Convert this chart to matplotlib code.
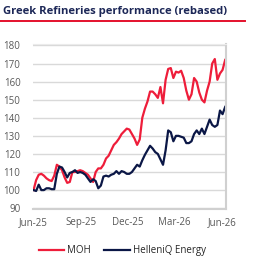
import pandas as pd
import matplotlib.pyplot as plt
import matplotlib.dates as mdates
from matplotlib.lines import Line2D

# Rebased performance, sampled every 5 days from early June 2025
dates = pd.date_range('2025-06-02', periods=75, freq='5D')

moh = [100, 105.5, 108.5, 109, 108, 106.5, 105.5, 105, 108, 114,
       113, 111, 107, 104, 104.5, 110, 110, 110.5, 111, 110.5,
       109.5, 108.5, 106.5, 104.5, 110, 112, 112, 114, 117.5, 119,
       122, 125, 126.5, 128.5, 131, 132.5, 134, 133.5, 131, 128.5,
       125, 128, 140, 145, 149, 154.5, 154.5, 153, 151, 157,
       148, 161, 167, 167.5, 162, 165.5, 165, 166, 162, 155,
       150, 153, 162, 160, 154, 150, 148.5, 155, 160, 170,
       172.5, 161, 164.5, 166.5, 172]

helleniq = [100, 99.5, 103, 100, 100, 101, 101, 100.5, 100.5, 109,
            113, 112.5, 110, 107, 109.5, 110, 111, 109.5, 110, 109.5,
            108.5, 106.5, 104.5, 106, 105, 101, 102.5, 107.5, 108, 107.5,
            108.5, 109, 110.5, 109, 110.5, 110, 109, 109, 110, 112,
            114, 113, 116.5, 119.5, 122, 124.5, 123, 121, 120, 117,
            114, 122, 133, 132, 127, 130, 130, 129.5, 129, 126,
            126, 127, 131, 133, 131, 134, 131, 135, 139, 136,
            135, 136, 144, 142, 146]

series_names = ['MOH', 'HelleniQ Energy']
colors = ['#EE1D3A', '#0B1746']

fig = plt.figure(figsize=(2.6, 2.62), dpi=100)

# title with red underline
fig.text(0.012, 0.955, 'Greek Refineries performance (rebased)', fontsize=8.15,
         fontweight='bold', color='#1C2757', ha='left', va='center', family='Open Sans')
fig.add_artist(Line2D([0, 0.942], [0.918, 0.918], color='#E4112C', lw=1.4))

ax = fig.add_axes([0.127, 0.202, 0.741, 0.63])
ax.plot(dates, moh, color=colors[0], lw=1.6, label=series_names[0])
ax.plot(dates, helleniq, color=colors[1], lw=1.6, label=series_names[1])

ax.set_ylim(89.5, 180.8)
ax.set_yticks(range(90, 181, 10))
ax.set_xlim(pd.Timestamp('2025-06-01'), pd.Timestamp('2026-06-08'))
ax.xaxis.set_major_locator(mdates.MonthLocator(bymonth=[3, 6, 9, 12]))
ax.xaxis.set_major_formatter(mdates.DateFormatter('%b-%y'))

ax.grid(axis='y', color='#D9D9D9', lw=1)
ax.set_axisbelow(True)
ax.tick_params(length=0, labelsize=7, labelcolor='#595959')
ax.tick_params(axis='y', pad=9)
ax.tick_params(axis='x', pad=6)
for lbl in ax.get_xticklabels() + ax.get_yticklabels():
    lbl.set_family('Open Sans')

ax.spines['left'].set_visible(False)
ax.spines['top'].set_color('#EBEBEB')
ax.spines['right'].set_color('#D0D0D0')
ax.spines['bottom'].set_color('#D0D0D0')
ax.spines['right'].set_linewidth(1.5)
ax.spines['bottom'].set_linewidth(1.5)

fig.legend(loc='center', bbox_to_anchor=(0.47, 0.042), ncol=2, frameon=False,
           prop={'family': 'Open Sans', 'size': 7}, handlelength=2.6,
           columnspacing=1.4, handletextpad=0.3, labelcolor='#262626')

fig.savefig('out.png', dpi=100)
